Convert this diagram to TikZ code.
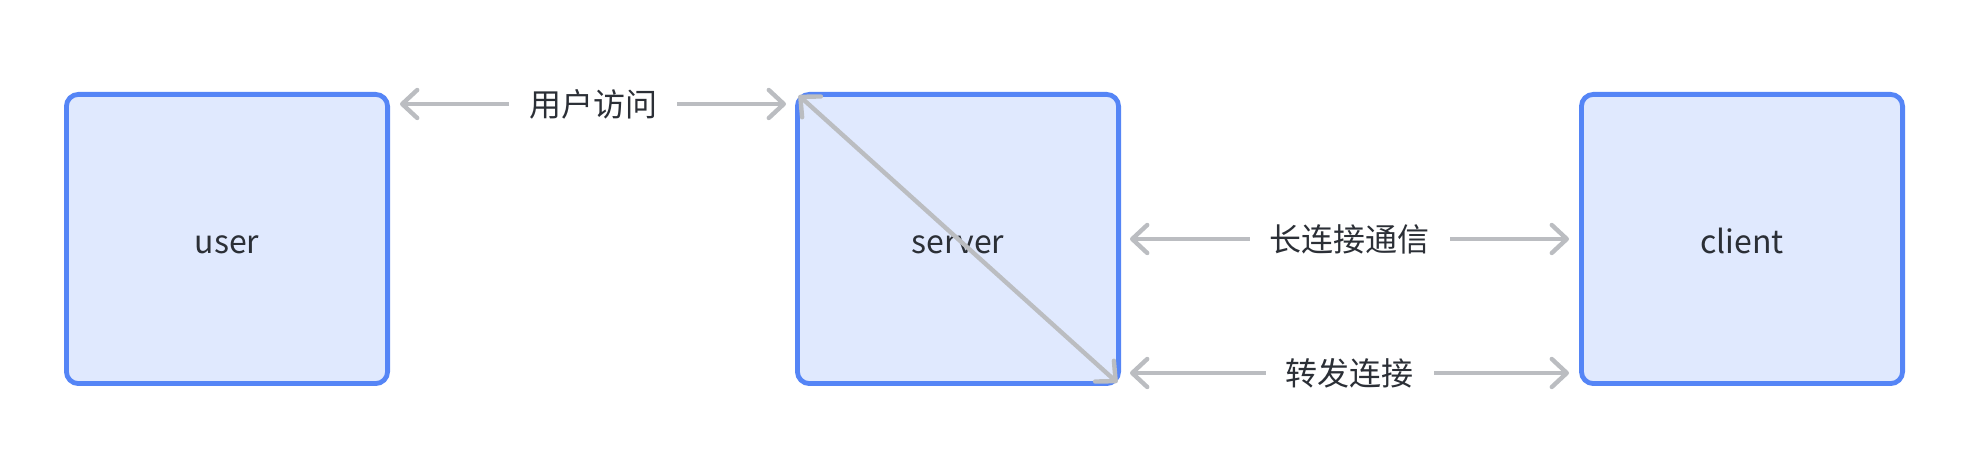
\documentclass[tikz,border=0pt]{standalone}
\usepackage{fontspec}
\setmainfont{Noto Sans CJK SC}
\usetikzlibrary{arrows.meta,calc}
\definecolor{boxblue}{HTML}{5585F6}
\definecolor{boxfill}{HTML}{E0E9FE}
\definecolor{linegray}{HTML}{BBBDC1}
\definecolor{txt}{HTML}{2B2F36}
\begin{document}
\begin{tikzpicture}[x=0.5pt,y=-0.5pt,
  box/.style={draw=boxblue, fill=boxfill, line width=2.4pt, rounded corners=6pt,
    minimum width=160.6pt, minimum height=144.6pt, inner sep=0pt, text=txt,
    text height=15pt, text depth=0pt,
    font=\fontsize{16}{19}\selectfont},
  conn/.style={draw=linegray, line width=2.2pt,
    {Straight Barb[length=7.5pt,width=14pt,round]}-{Straight Barb[length=7.5pt,width=14pt,round]}},
  lbl/.style={fill=white, text=txt, inner xsep=10pt, inner ysep=2pt,
    font=\fontsize{16}{19}\selectfont}]
\useasboundingbox (0,0) rectangle (1970,474);
\node[box] (user) at (227,239) {user};
\node[box] (server) at (958,239) {server};
\node[box] (client) at (1742,239) {client};
\draw[conn] ($(user.north east)+(10,12)$) -- node[lbl] {用户访问} ($(server.north west)+(-9,12)$);
\draw[conn] ($(server.east)+(9,0)$) -- node[lbl] {长连接通信} ($(client.west)+(-10,0)$);
\draw[conn] ($(server.south east)+(9,-13)$) -- node[lbl] {转发连接} ($(client.south west)+(-10,-13)$);
\draw[conn, shorten <=2.5pt, shorten >=2.5pt] (server.north west) -- (server.south east);
\end{tikzpicture}
\end{document}
